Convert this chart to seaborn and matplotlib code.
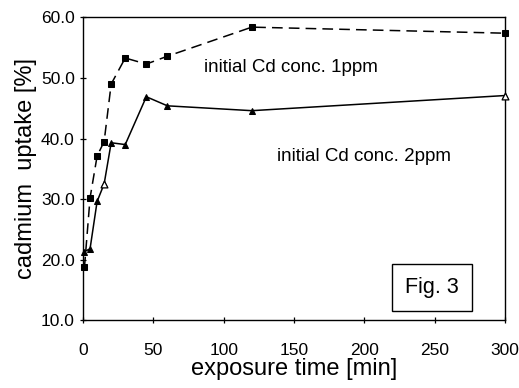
import matplotlib
matplotlib.use("Agg")
import matplotlib.pyplot as plt
import numpy as np
import pandas as pd
import seaborn as sns

sns.set_style("ticks")
plt.rcParams["font.family"] = ["Liberation Sans", "DejaVu Sans"]
plt.rcParams["text.color"] = "black"
plt.rcParams["axes.labelcolor"] = "black"

# exposure time [min]
time_min = [1, 5, 10, 15, 20, 30, 45, 60, 120, 300]
# cadmium uptake [%]
uptake_1ppm = [18.7, 30.2, 37.1, 39.5, 49.0, 53.3, 52.3, 53.6, 58.4, 57.4]
uptake_2ppm = [21.3, 21.8, 29.6, 32.5, 39.3, 39.0, 46.9, 45.4, 44.6, 47.1]
open_2ppm = [False, False, False, True, False, False, False, False, False, True]

df1 = pd.DataFrame({"time": time_min, "uptake": uptake_1ppm})
df2 = pd.DataFrame({"time": time_min, "uptake": uptake_2ppm, "open": open_2ppm})

fig = plt.figure(figsize=(5.19, 3.88), dpi=100)
ax = fig.add_axes([0.160, 0.175, 0.813, 0.780])

sns.lineplot(data=df1, x="time", y="uptake", ax=ax, color="black", lw=1.1,
             marker="s", markersize=4.5, markeredgecolor="black",
             linestyle=(0, (7, 4)), clip_on=False)
sns.lineplot(data=df2, x="time", y="uptake", ax=ax, color="black", lw=1.1,
             marker="^", markersize=4.5, markeredgecolor="black", clip_on=False)
sns.scatterplot(data=df2[df2["open"]], x="time", y="uptake", ax=ax,
                marker="^", s=24, facecolor="white", edgecolor="black",
                linewidth=0.9, zorder=5, clip_on=False)

ax.set_xlim(0, 300)
ax.set_ylim(10, 60)
ax.set_xticks(np.arange(0, 301, 50))
ax.set_yticks(np.arange(10, 61, 10))
ax.set_yticklabels([f"{v:.1f}" for v in np.arange(10, 61, 10)])
ax.tick_params(direction="inout", length=5, width=0.9, labelsize=12.5,
               colors="black")
ax.tick_params(axis="x", pad=14)
for s in ax.spines.values():
    s.set_linewidth(1.0)
    s.set_color("black")

ax.set_xlabel("exposure time [min]", fontsize=17, labelpad=0)
ax.set_ylabel("cadmium  uptake [%]", fontsize=17, labelpad=3)

ax.text(86, 51.7, "initial Cd conc. 1ppm", fontsize=13.5, va="center")
ax.text(138, 37.1, "initial Cd conc. 2ppm", fontsize=13.5, va="center")
ax.text(248, 15.4, "Fig. 3", fontsize=15.5, ha="center", va="center",
        bbox=dict(boxstyle="square,pad=0.6", fc="white", ec="black", lw=1.0))

fig.savefig("out.png", dpi=100)
